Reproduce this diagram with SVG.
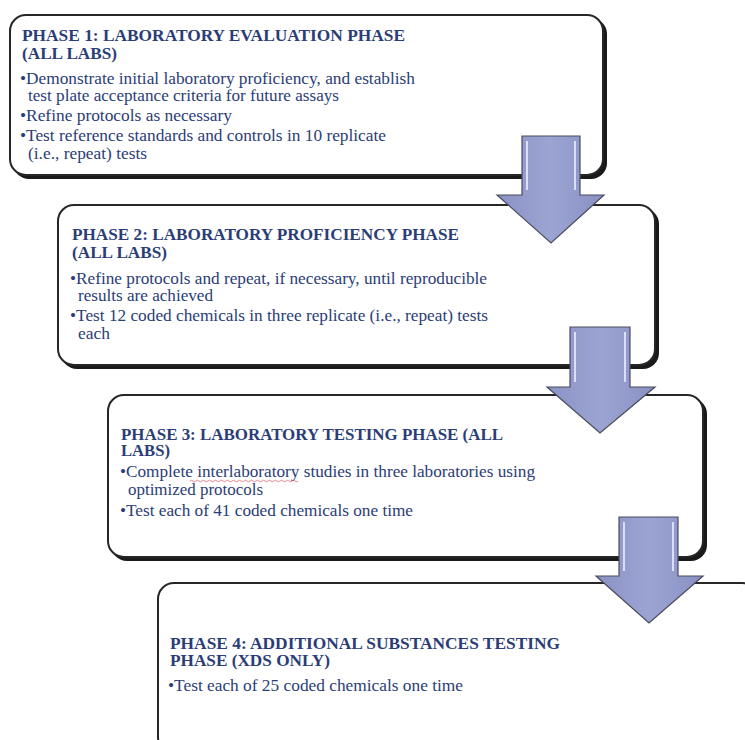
<svg xmlns="http://www.w3.org/2000/svg" width="745" height="740" viewBox="0 0 745 740">
<defs>
<linearGradient id="ag" x1="0" y1="0" x2="1" y2="0">
<stop offset="0" stop-color="#8a93c5"/>
<stop offset="0.5" stop-color="#9ca4d3"/>
<stop offset="1" stop-color="#8891c3"/>
</linearGradient>
<style>
.box{fill:#ffffff;stroke:#262626;stroke-width:2}
.shd{fill:#1a1a1a}
.h{font-family:"Liberation Serif","Times New Roman",serif;font-weight:bold;font-size:16px;fill:#2b3d76}
.t{font-family:"Liberation Serif","Times New Roman",serif;font-size:16px;fill:#2b3d76}
.arr{fill:url(#ag);stroke:#4a4c5c;stroke-width:1.2;stroke-linejoin:miter}
.hl{stroke:#eef0ff;stroke-width:2;fill:none;opacity:0.8}
</style>
</defs>
<rect width="745" height="740" fill="#ffffff"/>

<g id="phase1">
<rect class="shd" x="13" y="18" width="594" height="161" rx="16"/>
<rect class="box" x="10" y="15" width="593" height="160" rx="16"/>
<text class="h" x="22" y="41" textLength="383" lengthAdjust="spacingAndGlyphs">PHASE 1: LABORATORY EVALUATION PHASE</text>
<text class="h" x="22" y="59" textLength="95" lengthAdjust="spacingAndGlyphs">(ALL LABS)</text>
<text class="t" x="20" y="84" textLength="395" lengthAdjust="spacingAndGlyphs">•Demonstrate initial laboratory proficiency, and establish</text>
<text class="t" x="28" y="101" textLength="311" lengthAdjust="spacingAndGlyphs">test plate acceptance criteria for future assays</text>
<text class="t" x="20" y="121" textLength="212" lengthAdjust="spacingAndGlyphs">•Refine protocols as necessary</text>
<text class="t" x="20" y="141" textLength="366" lengthAdjust="spacingAndGlyphs">•Test reference standards and controls in 10 replicate</text>
<text class="t" x="28" y="159" textLength="119" lengthAdjust="spacingAndGlyphs">(i.e., repeat) tests</text>
</g>

<g id="phase2">
<rect class="shd" x="61" y="208" width="598" height="161" rx="16"/>
<rect class="box" x="58" y="205" width="597" height="160" rx="16"/>
<text class="h" x="72" y="240" textLength="387" lengthAdjust="spacingAndGlyphs">PHASE 2: LABORATORY PROFICIENCY PHASE</text>
<text class="h" x="72" y="258" textLength="95" lengthAdjust="spacingAndGlyphs">(ALL LABS)</text>
<text class="t" x="70" y="284" textLength="417" lengthAdjust="spacingAndGlyphs">•Refine protocols and repeat, if necessary, until reproducible</text>
<text class="t" x="78" y="301" textLength="135" lengthAdjust="spacingAndGlyphs">results are achieved</text>
<text class="t" x="70" y="321" textLength="418" lengthAdjust="spacingAndGlyphs">•Test 12 coded chemicals in three replicate (i.e., repeat) tests</text>
<text class="t" x="78" y="339" textLength="32" lengthAdjust="spacingAndGlyphs">each</text>
</g>

<g id="phase3">
<rect class="shd" x="111" y="398" width="596" height="163" rx="16"/>
<rect class="box" x="108" y="395" width="595" height="162" rx="16"/>
<text class="h" x="121" y="440" textLength="382" lengthAdjust="spacingAndGlyphs">PHASE 3: LABORATORY TESTING PHASE (ALL</text>
<text class="h" x="121" y="456" textLength="49" lengthAdjust="spacingAndGlyphs">LABS)</text>
<text class="t" x="120" y="477" textLength="415" lengthAdjust="spacingAndGlyphs">•Complete interlaboratory studies in three laboratories using</text>
<text class="t" x="128" y="495" textLength="135" lengthAdjust="spacingAndGlyphs">optimized protocols</text>
<text class="t" x="120" y="516" textLength="293" lengthAdjust="spacingAndGlyphs">•Test each of 41 coded chemicals one time</text>
<path d="M190 481 q1.5 -1.5 3 0 t3 0 t3 0 t3 0 t3 0 t3 0 t3 0 t3 0 t3 0 t3 0 t3 0 t3 0 t3 0 t3 0 t3 0 t3 0 t3 0 t3 0 t3 0 t3 0 t3 0 t3 0 t3 0 t3 0 t3 0 t3 0 t3 0 t3 0 t3 0 t3 0 t3 0 t3 0 t3 0 t3 0 t3 0 t3 0" fill="none" stroke="#e06a7a" stroke-width="0.8"/>
</g>

<g id="phase4">
<rect class="shd" x="161" y="586" width="600" height="170" rx="16"/>
<rect class="box" x="158" y="583" width="600" height="170" rx="16"/>
<text class="h" x="170" y="649" textLength="390" lengthAdjust="spacingAndGlyphs">PHASE 4: ADDITIONAL SUBSTANCES TESTING</text>
<text class="h" x="170" y="666" textLength="160" lengthAdjust="spacingAndGlyphs">PHASE (XDS ONLY)</text>
<text class="t" x="168" y="691" textLength="295" lengthAdjust="spacingAndGlyphs">•Test each of 25 coded chemicals one time</text>
</g>

<g id="connectors">
<g>
<polygon class="arr" points="522,136 580,136 580,195 604,195 551,243 497,195 522,195"/>
<path class="hl" d="M527 141 V190 M575 141 V190"/>
</g>
<g>
<polygon class="arr" points="570,327 630,327 630,387 655,387 600,433 547,387 570,387"/>
<path class="hl" d="M575 332 V382 M625 332 V382"/>
</g>
<g>
<polygon class="arr" points="619,517 678,517 678,576 703,576 649,623 596,576 619,576"/>
<path class="hl" d="M624 522 V571 M673 522 V571"/>
</g>
</g>
</svg>
